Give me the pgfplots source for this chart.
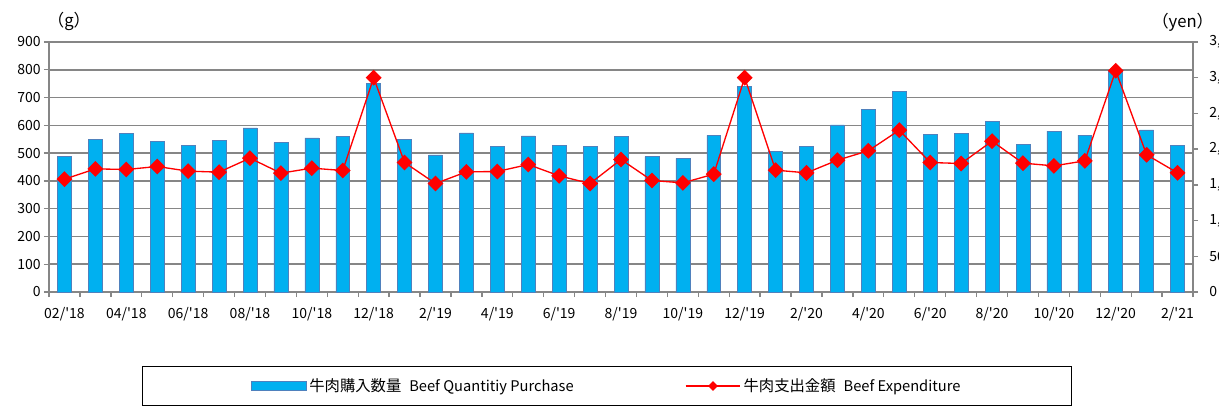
\documentclass[border=0pt]{standalone}
\usepackage{fontspec}
\usepackage{pgfplots}
\pgfplotsset{compat=1.18}
\usepackage{pgfplotstable}
\newfontfamily\jp{Noto Sans CJK JP}
\definecolor{barfill}{RGB}{0,176,240}
\definecolor{barline}{RGB}{79,129,189}
\definecolor{gridc}{RGB}{134,134,134}
\pgfplotstableread{
x g yen
0 488 1580
1 549 1724
2 572 1715
3 543 1757
4 527 1692
5 547 1678
6 591 1874
7 538 1664
8 555 1734
9 559 1701
10 751 3000
11 550 1813
12 494 1519
13 573 1682
14 524 1687
15 562 1785
16 527 1626
17 525 1519
18 561 1855
19 487 1561
20 481 1528
21 564 1650
22 741 3000
23 507 1706
24 525 1668
25 602 1846
26 658 1977
27 721 2266
28 567 1813
29 571 1799
30 615 2112
31 531 1804
32 579 1766
33 565 1836
34 795 3098
35 584 1921
36 527 1668
}\data
\begin{document}
\jp
\begin{tikzpicture}
\useasboundingbox (0,0) rectangle (914.25pt,308.25pt);
\begin{axis}[
  at={(36.75pt,89.25pt)}, anchor=south west,
  scale only axis, width=858pt, height=187.5pt,
  xmin=-0.5, xmax=36.5, ymin=0, ymax=900,
  axis x line*=bottom, axis y line*=left,
  axis line style={gridc, line width=1pt},
  tick align=outside,
  major tick length=3.75pt,
  tick style={gridc, line width=1pt},
  xtick={-0.5,0.5,...,36.5}, xticklabels={},
  extra x ticks={0,2,...,36},
  extra x tick labels={02/'18,04/'18,06/'18,08/'18,10/'18,12/'18,2/'19,4/'19,6/'19,8/'19,10/'19,12/'19,2/'20,4/'20,6/'20,8/'20,10/'20,12/'20,2/'21},
  extra x tick style={major tick length=0pt, grid=none},
  ytick={0,100,...,900},
  ymajorgrids, grid style={gridc, line width=1.2pt},
  /pgf/number format/assume math mode=true,
  ticklabel style={font=\jp\fontsize{10.5}{12}\selectfont},
  yticklabel style={xshift=1pt},
  xticklabel style={yshift=-8pt},
  clip=false,
]
\addplot[ybar, bar width=0.45, fill=barfill, draw=barline, line width=0.4pt] table[x=x,y=g]{\data};
\end{axis}
\begin{axis}[
  at={(36.75pt,89.25pt)}, anchor=south west,
  scale only axis, width=858pt, height=187.5pt,
  xmin=-0.5, xmax=36.5, ymin=0, ymax=3500,
  axis x line=none, axis y line*=right,
  axis line style={gridc, line width=1pt},
  tick align=outside,
  major tick length=3.75pt,
  tick style={gridc, line width=1pt},
  ytick={0,500,...,3500},
  /pgf/number format/assume math mode=true,
  /pgf/number format/1000 sep={,},
  ticklabel style={font=\jp\fontsize{10.5}{12}\selectfont},
  yticklabel style={xshift=5pt},
  clip=false,
  legend columns=2,
  legend style={at={(0.488,-0.376)}, anchor=center, draw=black, line width=0.8pt,
    inner xsep=81.5pt, inner ysep=7pt,
    /tikz/every even column/.append style={column sep=81.5pt},
    font=\jp\fontsize{11.5}{13}\selectfont, cells={anchor=west}},
]
\addlegendimage{legend image code/.code={\draw[fill=barfill, draw=barline, line width=0.4pt] (0pt,-3.4pt) rectangle (41pt,3.4pt);}}
\addlegendentry{牛肉購入数量\hspace{6pt}{\fontsize{11}{13}\selectfont Beef Quantitiy Purchase}}
\addplot[red, line width=1pt, mark=square*, mark size=3.7pt, mark options={rotate=45, fill=red, draw=red},
  legend image code/.code={\draw[red, line width=1pt] (0pt,0pt) -- (41pt,0pt); \fill[red] (20.5pt,0pt) ++(-3pt,0) -- ++(3pt,3pt) -- ++(3pt,-3pt) -- ++(-3pt,-3pt) -- cycle;}]
  table[x=x,y=yen]{\data};
\addlegendentry{牛肉支出金額\hspace{6pt}{\fontsize{11}{13}\selectfont Beef Expenditure}}
\end{axis}
\node[font=\jp\fontsize{12.5}{14}\selectfont] at (51.75pt,292.5pt) {（g）};
\node[font=\jp\fontsize{12.5}{14}\selectfont] at (887pt,291.75pt) {（yen）};
\end{tikzpicture}
\end{document}
